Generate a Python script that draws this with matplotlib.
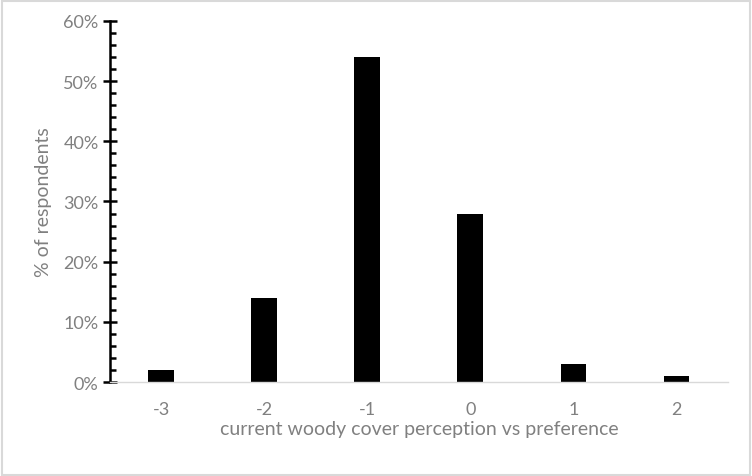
import matplotlib.pyplot as plt
from matplotlib.ticker import MultipleLocator, PercentFormatter
from matplotlib.patches import Rectangle

categories = ["-3", "-2", "-1", "0", "1", "2"]
values = [2, 14, 54, 28, 3, 1]

plt.rcParams['font.family'] = ['Lato', 'DejaVu Sans']
grey = '#808080'

fig = plt.figure(figsize=(7.52, 4.77), dpi=100)
ax = fig.add_axes([0.146, 0.197, 0.822, 0.757])

x = range(len(categories))
ax.bar(x, values, width=0.25, color='black')
ax.set_xlim(-0.5, len(categories) - 0.5)
ax.set_ylim(0, 60)
ax.set_xticks(list(x))
ax.set_xticklabels(categories)

ax.yaxis.set_major_locator(MultipleLocator(10))
ax.yaxis.set_minor_locator(MultipleLocator(2))
ax.yaxis.set_major_formatter(PercentFormatter(decimals=0))

for s in ['top', 'right']:
    ax.spines[s].set_visible(False)
ax.spines['left'].set_color('black')
ax.spines['left'].set_linewidth(1.8)
ax.spines['bottom'].set_color('#d9d9d9')
ax.spines['bottom'].set_linewidth(1)

ax.tick_params(axis='y', which='major', direction='inout', length=10, width=1.8,
               colors='black', labelcolor=grey, labelsize=13, pad=3)
ax.tick_params(axis='y', which='minor', direction='in', length=4, width=1.8, colors='black')
ax.tick_params(axis='x', length=0, labelcolor=grey, labelsize=13, pad=14)

ax.set_xlabel('current woody cover perception vs preference', color=grey, fontsize=14, labelpad=2)
ax.set_ylabel('% of respondents', color=grey, fontsize=14, labelpad=8)

fig.patches.append(Rectangle((0.002, 0.003), 0.995, 0.993, transform=fig.transFigure,
                             fill=False, edgecolor='#d9d9d9', linewidth=1.5))

fig.savefig('out.png', dpi=100)
